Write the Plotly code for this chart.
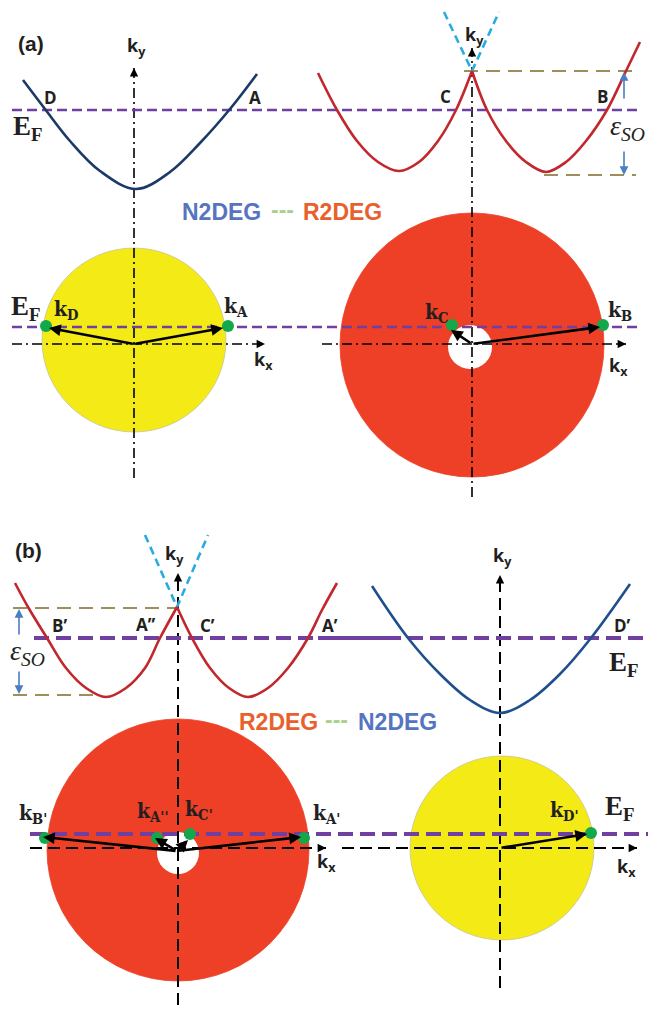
import plotly.graph_objects as go

# ---------------- data (pixel-space schematic values) ----------------
# band curves: sample points along each dispersion curve
band_a_n_x = [23, 45, 70, 100, 136, 170, 200, 230, 257]
band_a_n_y = [80, 109, 141, 171, 189, 172, 143, 109, 74]
band_a_r1_x = [318, 337, 357, 378, 399, 419, 438, 456, 472]
band_a_r1_y = [73, 110, 141, 162, 171, 162, 141, 110, 71]
band_a_r2_x = [472, 487, 506, 526, 546, 566, 586, 607, 626, 640]
band_a_r2_y = [71, 110, 141, 162, 172, 162, 141, 110, 71, 42]
band_b_r1_x = [15, 28, 47, 66, 86, 106, 126, 145, 160, 177]
band_b_r1_y = [583, 607, 638, 668, 688, 697, 688, 668, 638, 607]
band_b_r2_x = [177, 192, 210, 229, 248, 268, 288, 308, 322, 337]
band_b_r2_y = [607, 638, 668, 688, 697, 688, 668, 638, 610, 583]
band_b_n_x = [372, 408, 440, 470, 500, 530, 560, 591, 630]
band_b_n_y = [586, 638, 674, 700, 713, 700, 674, 638, 584]
# Dirac-like cones (light blue dashed)
cone_a_x = [444, 472, 499]
cone_a_y = [12, 71, 12]
cone_b_x = [145, 177, 208]
cone_b_y = [535, 607, 535]

# Fermi disks
disk_cx = [134, 472, 178, 502]
disk_cy = [340, 345, 850, 848]
disk_r = [92, 132, 131, 92]
disk_color = ["#f3ea16", "#ee3f27", "#ee3f27", "#f3ea16"]
hole_cx = [470, 178]
hole_cy = [347, 853]
hole_r = [22, 21]

# Fermi-level lines: (x0, x1, y)
ef_a = [(12, 639, 110), (12, 639, 327)]
ef_b = [(34, 648, 638), (30, 648, 834)]
ef_b_solid = (318, 393, 638)

# axes (x0, y0, x1, y1) with arrow at (x1, y1)
axes_a = [(134, 478, 134, 68), (12, 344, 265, 344), (472, 497, 472, 48), (322, 344, 626, 344)]
axes_b = [(178, 1005, 178, 573), (30, 848, 326, 848), (500, 988, 500, 575), (342, 848, 637, 848)]

# spin-orbit energy markers
so_lines = [(464, 636, 71), (544, 636, 175), (13, 177, 608), (13, 100, 695)]
so_arrows = [(624, 100, 624, 72), (624, 150, 624, 175), (19, 636, 19, 609), (19, 670, 19, 694)]

# Fermi wave-vector points and origins
kpt_x = [46, 228, 452, 603, 45, 157, 190, 304, 591]
kpt_y = [326, 326, 325, 325, 838, 838, 834, 838, 833]
kvec_ox = [134, 134, 472, 472, 177, 177, 177, 177, 500]
kvec_oy = [344, 344, 344, 344, 851, 851, 851, 851, 848]
kvec_tx = [49, 223, 451, 600, 43, 155, 188, 301, 587]
kvec_ty = [328, 328, 330, 327, 837, 838, 840, 837, 834]

# labels
k_labels = ["k<sub>D</sub>", "k<sub>A</sub>", "k<sub>C</sub>", "k<sub>B</sub>",
            "k<sub>B'</sub>", "k<sub>A''</sub>", "k<sub>C'</sub>", "k<sub>A'</sub>", "k<sub>D'</sub>"]
k_label_x = [66, 236, 437, 620, 33, 152, 199, 326, 564]
k_label_y = [309, 306, 312, 310, 813, 811, 809, 813, 810]

pt_labels = ["D", "A", "C", "B", "B’", "A’’", "C’", "A’", "D’"]
pt_label_x = [50, 255, 445, 602, 59, 145, 207, 330, 622]
pt_label_y = [97, 97, 96, 96, 625, 624, 625, 625, 625]

axis_labels = ["k<sub>y</sub>", "k<sub>y</sub>", "k<sub>x</sub>", "k<sub>x</sub>",
               "k<sub>y</sub>", "k<sub>y</sub>", "k<sub>x</sub>", "k<sub>x</sub>"]
axis_label_x = [136, 474, 263, 618, 174, 502, 326, 626]
axis_label_y = [46, 35, 360, 366, 554, 556, 862, 867]

ef_label_x = [28, 26, 624, 620]
ef_label_y = [128, 308, 664, 808]

panel_labels = ["(a)", "(b)"]
panel_x = [31, 28]
panel_y = [43, 550]

eso_x = [627, 27]
eso_y = [127, 652]

legend_a = [("N2DEG", 221, 212, "#5674bf"), ("---", 282, 210, "#a9d18e"), ("R2DEG", 342, 212, "#e8612c")]
legend_b = [("R2DEG", 278, 722, "#e8612c"), ("---", 336, 720, "#a9d18e"), ("N2DEG", 397, 722, "#5674bf")]

# ---------------- figure ----------------
fig = go.Figure()
shapes = []
for cx, cy, r, c in zip(disk_cx, disk_cy, disk_r, disk_color):
    shapes.append(dict(type="circle", xref="x", yref="y", x0=cx - r, x1=cx + r, y0=cy - r, y1=cy + r,
                       fillcolor=c, line=dict(color="#c9c39a" if c == "#f3ea16" else c, width=0.8),
                       layer="below"))
for cx, cy, r in zip(hole_cx, hole_cy, hole_r):
    shapes.append(dict(type="circle", xref="x", yref="y", x0=cx - r, x1=cx + r, y0=cy - r, y1=cy + r,
                       fillcolor="white", line=dict(color="white", width=0), layer="below"))


def line(x, y, color, width, dash="solid", shape="linear"):
    fig.add_trace(go.Scatter(x=x, y=y, mode="lines", hoverinfo="skip", showlegend=False,
                             line=dict(color=color, width=width, dash=dash, shape=shape)))


# axes
for x0, y0, x1, y1 in axes_a:
    line([x0, x1], [y0, y1], "black", 1.6, "10px,4px,2px,4px")
for x0, y0, x1, y1 in axes_b:
    line([x0, x1], [y0, y1], "black", 2, "12px,6px")

# Fermi levels
for x0, x1, y in ef_a:
    line([x0, x1], [y, y], "#7040a0", 2.6, "10px,5px")
for x0, x1, y in ef_b:
    line([x0, x1], [y, y], "#7040a0", 4, "15px,7px")
line([ef_b_solid[0], ef_b_solid[1]], [ef_b_solid[2], ef_b_solid[2]], "#7040a0", 4)

# spin-orbit dashed markers
for x0, x1, y in so_lines:
    line([x0, x1], [y, y], "#9d8f5b", 2.2, "14px,8px")

# cones
line(cone_a_x, cone_a_y, "#29abe2", 2.6, "8px,5px")
line(cone_b_x, cone_b_y, "#29abe2", 2.6, "8px,5px")

# bands
line(band_a_n_x, band_a_n_y, "#1b3a66", 2.6, shape="spline")
line(band_b_n_x, band_b_n_y, "#1f4f8d", 2.6, shape="spline")
for bx, by in [(band_a_r1_x, band_a_r1_y), (band_a_r2_x, band_a_r2_y),
               (band_b_r1_x, band_b_r1_y), (band_b_r2_x, band_b_r2_y)]:
    line(bx, by, "#c1272d", 2.6, shape="spline")

# k points
fig.add_trace(go.Scatter(x=kpt_x, y=kpt_y, mode="markers", hoverinfo="skip", showlegend=False,
                         marker=dict(size=12, color="#12a84b", line=dict(width=0))))

ann = []
# axis arrowheads
for x0, y0, x1, y1 in axes_a + axes_b:
    dx = 0 if x0 == x1 else (-8 if x1 > x0 else 8)
    dy = 0 if y0 == y1 else (-8 if y1 > y0 else 8)
    ann.append(dict(x=x1, y=y1, ax=x1 + dx, ay=y1 + dy, xref="x", yref="y", axref="x", ayref="y",
                    showarrow=True, arrowhead=2, arrowsize=1.2, arrowwidth=1.4, arrowcolor="black", text=""))
# SO arrows
for x0, y0, x1, y1 in so_arrows:
    ann.append(dict(x=x1, y=y1, ax=x0, ay=y0, xref="x", yref="y", axref="x", ayref="y",
                    showarrow=True, arrowhead=2, arrowsize=1.1, arrowwidth=1.6, arrowcolor="#4a7ec2", text=""))
# k vectors
for ox, oy, tx, ty in zip(kvec_ox, kvec_oy, kvec_tx, kvec_ty):
    ann.append(dict(x=tx, y=ty, ax=ox, ay=oy, xref="x", yref="y", axref="x", ayref="y",
                    showarrow=True, arrowhead=2, arrowsize=0.9, arrowwidth=2.6, arrowcolor="black", text=""))


def text(t, x, y, size, color="#231f20", family="Liberation Sans", bold=True, italic=False):
    s = t
    if italic:
        s = "<i>" + s + "</i>"
    ann.append(dict(x=x, y=y, xref="x", yref="y", text=s, showarrow=False, xanchor="center",
                    yanchor="middle",
                    font=dict(size=size, color=color, family=family, weight="bold" if bold else "normal")))


for t, x, y in zip(panel_labels, panel_x, panel_y):
    text(t, x, y, 21)
for t, x, y in zip(pt_labels, pt_label_x, pt_label_y):
    text(t, x, y, 17, family="Open Sans")
for t, x, y in zip(axis_labels, axis_label_x, axis_label_y):
    text(t, x, y, 18, family="Open Sans")
for t, x, y in zip(k_labels, k_label_x, k_label_y):
    text(t, x, y, 21, family="DejaVu Serif Condensed, Liberation Serif, serif")
for x, y in zip(ef_label_x, ef_label_y):
    text("E<sub>F</sub>", x, y, 27, family="Liberation Serif")
for x, y in zip(eso_x, eso_y):
    text("ε<sub>SO</sub>", x, y, 28, family="Liberation Serif", bold=False, italic=True)
for t, x, y, c in legend_a + legend_b:
    text(t, x, y, 23, color=c, family="Liberation Sans")

fig.update_layout(
    width=648, height=1010, autosize=False,
    margin=dict(l=0, r=0, t=0, b=0),
    paper_bgcolor="white", plot_bgcolor="white",
    xaxis=dict(range=[0, 648], visible=False, fixedrange=True),
    yaxis=dict(range=[1010, 0], visible=False, fixedrange=True),
    shapes=shapes, annotations=ann, showlegend=False,
)
fig.write_html("out.html")
